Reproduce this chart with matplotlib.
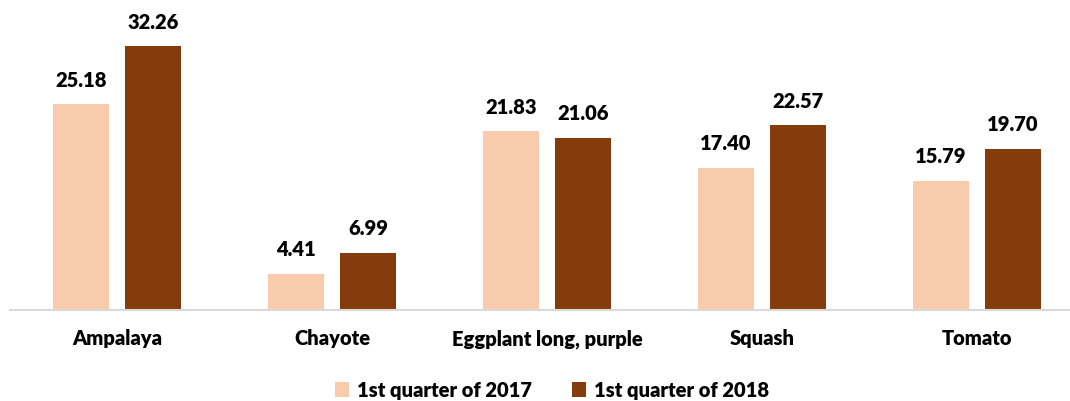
import matplotlib.pyplot as plt
import numpy as np

categories = ['Ampalaya', 'Chayote', 'Eggplant long, purple', 'Squash', 'Tomato']
q1_2017 = [25.18, 4.41, 21.83, 17.40, 15.79]
q1_2018 = [32.26, 6.99, 21.06, 22.57, 19.70]
series_names = ['1st quarter of 2017', '1st quarter of 2018']

plt.rcParams['font.family'] = ['Lato', 'DejaVu Sans']
fs = 14.5

fig = plt.figure(figsize=(10.7, 4.02), dpi=100)
ax = fig.add_axes([9.5 / 1070, 91 / 402, 1075 / 1070, 294.5 / 402])

x = np.arange(len(categories))
w = 0.265
off = 0.1674
b1 = ax.bar(x - off, q1_2017, w, color='#F8CBAD', label=series_names[0])
b2 = ax.bar(x + off, q1_2018, w, color='#843C0C', label=series_names[1])

for bars in (b1, b2):
    for rect in bars:
        h = rect.get_height()
        ax.annotate(f'{h:.2f}', (rect.get_x() + rect.get_width() / 2, h),
                    xytext=(0, 18), textcoords='offset points',
                    ha='center', va='center', fontsize=fs, fontweight='heavy')

ax.set_xlim(-0.5, 4.5)
ax.set_ylim(0, 36)
ax.set_xticks(x)
ax.set_xticklabels(categories, fontsize=fs, fontweight='heavy')
ax.tick_params(axis='x', length=0, pad=13)
ax.set_yticks([])
for s in ['top', 'right', 'left']:
    ax.spines[s].set_visible(False)
ax.spines['bottom'].set_color('#D9D9D9')
ax.spines['bottom'].set_linewidth(1.5)

fig.legend(loc='center', bbox_to_anchor=(552 / 1070, 11 / 402), ncol=2, frameon=False,
           prop={'size': fs, 'weight': 'heavy'}, handlelength=0.7, handleheight=0.7,
           handletextpad=0.4, columnspacing=2.0, borderpad=0.1)

fig.savefig('out.png', dpi=100)
